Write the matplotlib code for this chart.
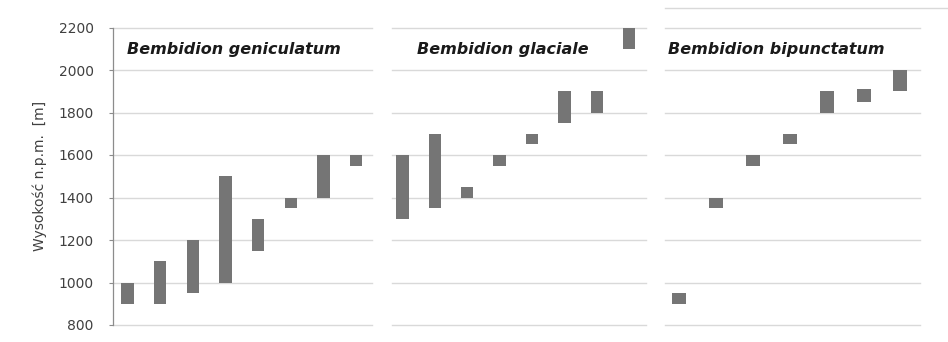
import matplotlib
matplotlib.use('Agg')
import matplotlib.pyplot as plt
from matplotlib.lines import Line2D

# altitude ranges (m a.s.l.) per site, one floating bar each
geniculatum_low  = [900, 900, 950, 1000, 1150, 1350, 1400, 1550]
geniculatum_high = [1000, 1100, 1200, 1500, 1300, 1400, 1600, 1600]

glaciale_low  = [1300, 1350, 1400, 1550, 1650, 1750, 1800, 2100]
glaciale_high = [1600, 1700, 1450, 1600, 1700, 1900, 1900, 2200]

bipunctatum_low  = [900, 1350, 1550, 1650, 1800, 1850, 1900]
bipunctatum_high = [950, 1400, 1600, 1700, 1900, 1910, 2000]

species = ['Bembidion geniculatum', 'Bembidion glaciale', 'Bembidion bipunctatum']
y_ticks = [800, 1000, 1200, 1400, 1600, 1800, 2000, 2200]
y_label = 'Wysokość n.p.m.  [m]'

BAR_COL  = '#757575'
GRID_COL = '#d9d9d9'
AXIS_COL = '#8c8c8c'

W, H = 948, 342
fig = plt.figure(figsize=(W / 100, H / 100), dpi=100)

y_top, y_bot = 27.5, 325.0
# (left px, right px, xlim, title x offset)
panels = [
    (113, 372, (-0.45, 7.49), 0.054, geniculatum_low, geniculatum_high),
    (392, 646, (-0.32, 7.52), 0.100, glaciale_low, glaciale_high),
    (665, 920, (-0.39, 6.53), 0.012, bipunctatum_low, bipunctatum_high),
]

for i, (x0, x1, xlim, tx, low, high) in enumerate(panels):
    ax = fig.add_axes([x0 / W, 1 - y_bot / H, (x1 - x0) / W, (y_bot - y_top) / H])
    xs = list(range(len(low)))
    heights = [h - l for l, h in zip(low, high)]
    ax.bar(xs, heights, bottom=low, width=0.38, color=BAR_COL, zorder=3,
           clip_on=False)
    ax.set_xlim(*xlim)
    ax.set_ylim(800, 2200)
    ax.set_yticks(y_ticks)
    ax.set_xticks([])
    # horizontal gridlines, unclipped so the 800 and 2200 lines show fully
    for yv in y_ticks:
        ax.axhline(yv, color=GRID_COL, lw=1.0, zorder=0, clip_on=False)
    for s in ['top', 'right', 'bottom']:
        ax.spines[s].set_visible(False)
    if i == 0:
        ax.spines['left'].set_color(AXIS_COL)
        ax.spines['left'].set_linewidth(0.9)
        ax.spines['left'].set_zorder(1)
        ax.tick_params(axis='y', length=3, color=AXIS_COL, labelsize=10,
                       labelcolor='#404040', pad=11)
        ax.set_ylabel(y_label, fontsize=10, color='#404040', labelpad=8)
    else:
        ax.spines['left'].set_visible(False)
        ax.tick_params(axis='y', left=False, labelleft=False)
    ax.text(tx, 0.927, species[i], transform=ax.transAxes, ha='left', va='center',
            fontsize=11.5, fontweight='bold', fontstyle='italic', color='#1a1a1a')

# thin frame line above the third panel
fig.add_artist(Line2D([665 / W, 1.0], [1 - 8 / H, 1 - 8 / H], color=GRID_COL, lw=1.0))

fig.savefig('out.png', dpi=100)
